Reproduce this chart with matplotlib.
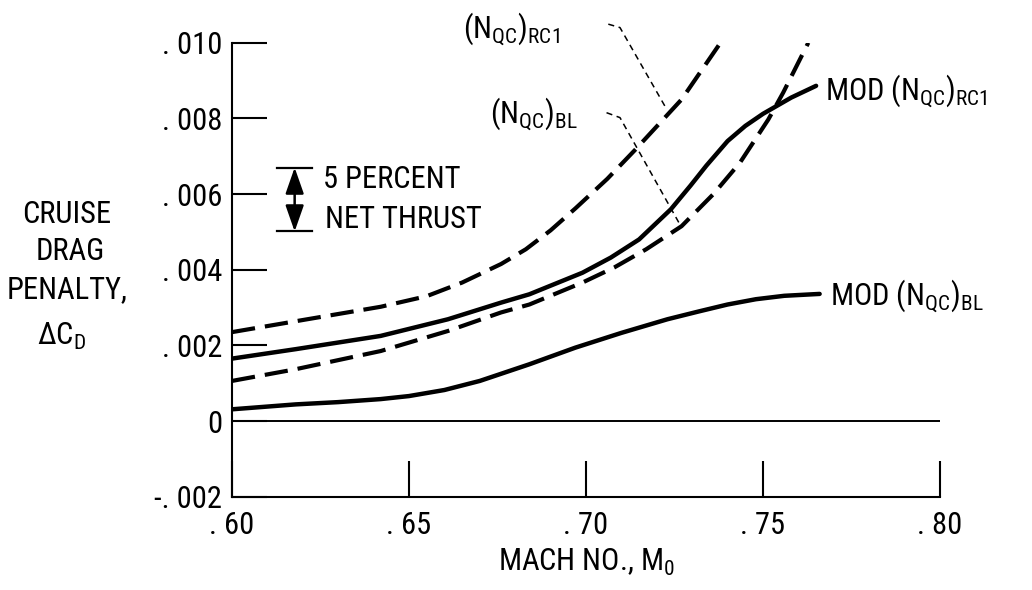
import matplotlib
matplotlib.use('Agg')
import matplotlib.pyplot as plt
from matplotlib import font_manager as fm


def pick_font():
    for name in ['Liberation Sans Narrow', 'DejaVu Sans Condensed', 'Roboto Condensed']:
        try:
            fm.findfont(fm.FontProperties(family=name), fallback_to_default=False)
            return name
        except Exception:
            pass
    return 'DejaVu Sans'


FONT = pick_font()
plt.rcParams['font.family'] = [FONT, 'DejaVu Sans']
plt.rcParams['mathtext.default'] = 'regular'

# ---------------- data (ΔC_D in units of 0.001) ----------------
x_ticks = [0.60, 0.65, 0.70, 0.75, 0.80]
x_tick_labels = ['. 60', '. 65', '. 70', '. 75', '. 80']
y_ticks = [-0.002, 0.0, 0.002, 0.004, 0.006, 0.008, 0.010]
y_tick_labels = ['-. 002', '0', '. 002', '. 004', '. 006', '. 008', '. 010']

# (N_QC)_RC1  - dashed, upper
rc1_x = [0.600, 0.620, 0.642, 0.655, 0.665, 0.676, 0.683, 0.690, 0.697, 0.706, 0.714, 0.727, 0.738]
rc1_y = [2.35, 2.67, 3.02, 3.30, 3.66, 4.15, 4.54, 5.04, 5.62, 6.40, 7.18, 8.50, 10.0]

# MOD (N_QC)_RC1 - solid
mod_rc1_x = [0.600, 0.618, 0.642, 0.661, 0.676, 0.684, 0.699, 0.707, 0.715, 0.724, 0.7295,
             0.734, 0.740, 0.745, 0.750, 0.758, 0.765]
mod_rc1_y = [1.65, 1.90, 2.25, 2.69, 3.13, 3.35, 3.92, 4.32, 4.80, 5.60, 6.22,
             6.75, 7.40, 7.80, 8.12, 8.55, 8.86]

# (N_QC)_BL - dashed, lower
bl_x = [0.600, 0.618, 0.642, 0.661, 0.676, 0.684, 0.699, 0.708, 0.717, 0.727, 0.736, 0.7435,
        0.7515, 0.7557, 0.7628]
bl_y = [1.06, 1.37, 1.85, 2.38, 2.87, 3.08, 3.66, 4.06, 4.54, 5.15, 6.00, 6.83,
        7.97, 8.68, 10.0]

# MOD (N_QC)_BL - solid, lowest
mod_bl_x = [0.600, 0.618, 0.630, 0.642, 0.650, 0.660, 0.670, 0.684, 0.697, 0.710, 0.723, 0.732,
            0.740, 0.748, 0.756, 0.766]
mod_bl_y = [0.31, 0.44, 0.50, 0.58, 0.66, 0.82, 1.06, 1.50, 1.94, 2.33, 2.69, 2.90,
            3.08, 3.22, 3.31, 3.36]

# 5 percent net thrust bracket
thrust_x = 0.6177
thrust_top = 6.70
thrust_bot = 5.01
thrust_halfw = 0.0049

scale = 1e-3

fig = plt.figure(figsize=(10.32, 5.9), dpi=100)
ax = fig.add_axes([232 / 1032, 1 - 496.7 / 590, (940 - 232) / 1032, (496.7 - 42.7) / 590])
ax.set_xlim(0.60, 0.80)
ax.set_ylim(-0.002, 0.010)
for s in ['top', 'right']:
    ax.spines[s].set_visible(False)
for s in ['left', 'bottom']:
    ax.spines[s].set_linewidth(1.5)

FS = 22
ax.set_xticks(x_ticks)
ax.set_xticklabels(x_tick_labels, fontsize=FS)
ax.set_yticks(y_ticks)
ax.set_yticklabels(y_tick_labels, fontsize=FS)
ax.tick_params(axis='x', direction='in', length=26, width=1.5, pad=10)
ax.tick_params(axis='y', direction='in', length=25, width=1.5, pad=7)

ax.axhline(0.0, color='black', lw=1.4)

LW = 3.2
ax.plot(rc1_x, [v * scale for v in rc1_y], color='black', lw=3.0, ls=(0, (5.6, 2.4)))
ax.plot(bl_x, [v * scale for v in bl_y], color='black', lw=3.0, ls=(0, (5.6, 2.4)))
ax.plot(mod_rc1_x, [v * scale for v in mod_rc1_y], color='black', lw=LW,
        solid_capstyle='round', solid_joinstyle='round')
ax.plot(mod_bl_x, [v * scale for v in mod_bl_y], color='black', lw=LW,
        solid_capstyle='round', solid_joinstyle='round')

# 5 percent net thrust bracket
for yv in (thrust_top, thrust_bot):
    ax.plot([thrust_x - thrust_halfw, thrust_x + thrust_halfw], [yv * scale, yv * scale],
            color='black', lw=1.6)
ax.annotate('', xy=(thrust_x, thrust_top * scale), xytext=(thrust_x, thrust_bot * scale),
            arrowprops=dict(arrowstyle='<|-|>,head_length=0.8,head_width=0.28', lw=1.8,
                            color='black', mutation_scale=20, shrinkA=0, shrinkB=0))
ax.text(0.6257, 6.39 * scale, '5 PERCENT', fontsize=FS, va='center', ha='left')
ax.text(0.6262, 5.33 * scale, 'NET THRUST', fontsize=FS, va='center', ha='left')

# curve labels with leaders
ax.text(0.6653, 10.14 * scale, r'${(N_{QC})}_{RC1}$', fontsize=FS, va='baseline', ha='left')
ax.plot([0.7063, 0.7096, 0.7228], [10.49 * scale, 10.40 * scale, 8.24 * scale], color='black',
        lw=1.1, ls=(0, (4, 3)), clip_on=False)
ax.text(0.6729, 7.90 * scale, r'${(N_{QC})}_{BL}$', fontsize=FS, va='baseline', ha='left')
ax.plot([0.7058, 0.7096, 0.7262], [8.15 * scale, 8.02 * scale, 5.25 * scale], color='black',
        lw=1.1, ls=(0, (4, 3)), clip_on=False)

ax.text(0.7675, 8.50 * scale, r'MOD ${(N_{QC})}_{RC1}$', fontsize=FS, va='baseline', ha='left')
ax.text(0.7689, 3.08 * scale, r'MOD ${(N_{QC})}_{BL}$', fontsize=FS, va='baseline', ha='left')


# axis labels
def fx(px):
    return px / 1032


def fy(py):
    return 1 - py / 590


fig.text(fx(67), fy(215), 'CRUISE', fontsize=FS, ha='center', va='center')
fig.text(fx(70), fy(251), 'DRAG', fontsize=FS, ha='center', va='center')
fig.text(fx(67), fy(290), 'PENALTY,', fontsize=FS, ha='center', va='center')
fig.text(fx(62), fy(345), r'$\Delta C_D$', fontsize=FS, ha='center', va='baseline')
fig.text(fx(586), fy(571), r'MACH NO., $M_0$', fontsize=FS, ha='center', va='baseline')

fig.savefig('out.png', dpi=100)
